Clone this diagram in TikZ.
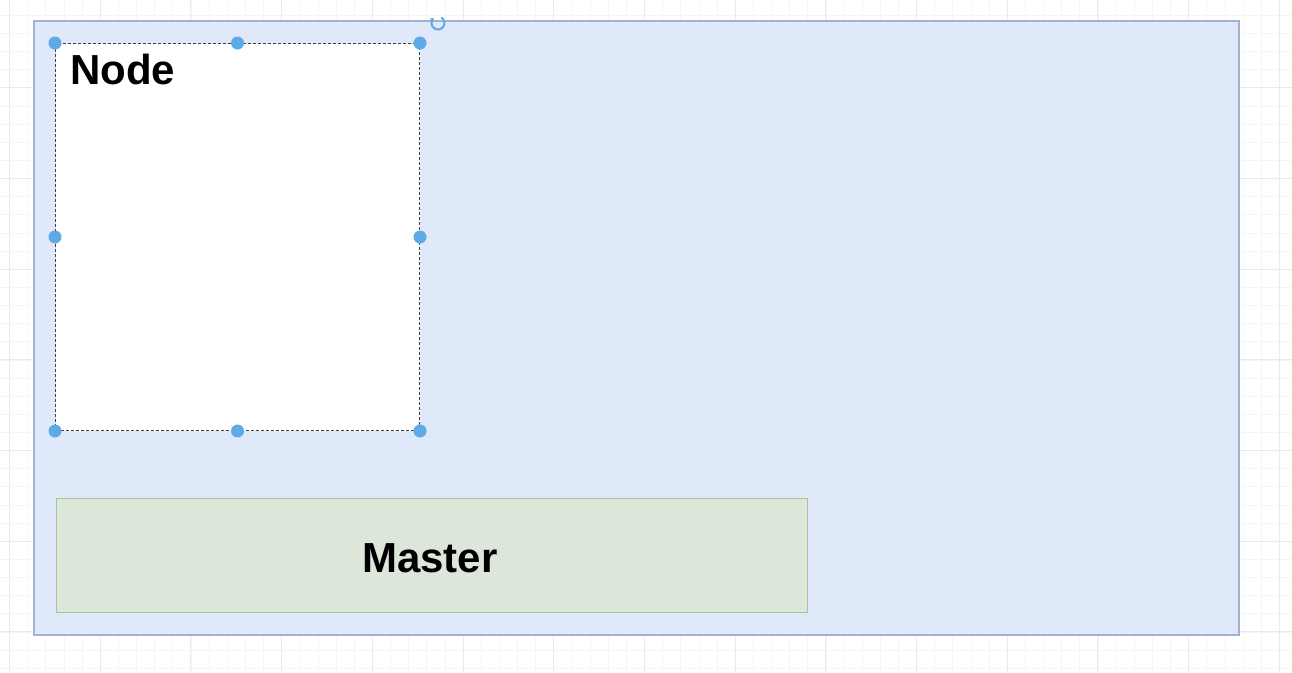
\documentclass[tikz,border=0pt]{standalone}
\usepackage{fontspec}
\setmainfont{Liberation Sans}
\usetikzlibrary{arrows.meta}
\definecolor{gridmajor}{HTML}{EAEAEA}
\definecolor{gridminor}{HTML}{F5F5F5}
\definecolor{contfill}{HTML}{DFE9F9}
\definecolor{contdraw}{HTML}{A3B2D2}
\definecolor{mastfill}{HTML}{DCE7DA}
\definecolor{mastdraw}{HTML}{A9C595}
\definecolor{handle}{HTML}{5DAAE6}
\tikzset{
  container/.style={draw=contdraw, fill=contfill, line width=1.5pt, minimum width=1205pt, minimum height=614pt, inner sep=0pt, anchor=north west},
  nodebox/.style={draw=black!75, fill=white, dashed, dash pattern=on 3pt off 2pt, line width=1pt, minimum width=364pt, minimum height=387pt, inner sep=0pt, anchor=north west},
  masterbox/.style={draw=mastdraw, fill=mastfill, line width=1.2pt, minimum width=751pt, minimum height=114pt, inner sep=0pt, anchor=north west},
  lbl/.style={font=\fontsize{42}{46}\selectfont\bfseries, inner sep=0pt, anchor=base west},
  hdl/.style={circle, fill=handle, minimum size=13pt, inner sep=0pt}
}
\begin{document}
\begin{tikzpicture}[x=1pt,y=-1pt]
\useasboundingbox (0,0) rectangle (1292,672);
\fill[white] (0,0) rectangle (1292,672);
% grid
\foreach \i in {-1,...,72} {
  \draw[gridminor, line width=0.6pt] ({9.5+18.14*\i},0) -- ({9.5+18.14*\i},672);
}
\foreach \j in {-1,...,38} {
  \draw[gridminor, line width=0.6pt] (0,{-3+18.14*\j}) -- (1292,{-3+18.14*\j});
}
\foreach \i in {0,...,14} {
  \draw[gridmajor, line width=0.9pt] ({9.5+90.7*\i},0) -- ({9.5+90.7*\i},672);
}
\foreach \j in {0,...,8} {
  \draw[gridmajor, line width=0.9pt] (0,{-3+90.7*\j}) -- (1292,{-3+90.7*\j});
}
% shapes
\node[container] (cont) at (33,20) {};
\node[nodebox] (nd) at (55,43) {};
\node[lbl] (ndlbl) at (70,84) {Node};
\node[masterbox] (mst) at (56,498) {};
\node[lbl, anchor=base] (mstlbl) at (430,572) {Master};
% selection handles
\foreach \a in {north west, north, north east, west, east, south west, south, south east} {
  \node[hdl] at (nd.\a) {};
}
% rotation handle
\coordinate (rot) at (438,23);
\draw[handle, line width=2pt, -{Stealth[length=4pt,width=5pt]}] ([shift={(-60:6.5)}]rot) arc[start angle=-60, end angle=230, radius=6.5];
\end{tikzpicture}
\end{document}
